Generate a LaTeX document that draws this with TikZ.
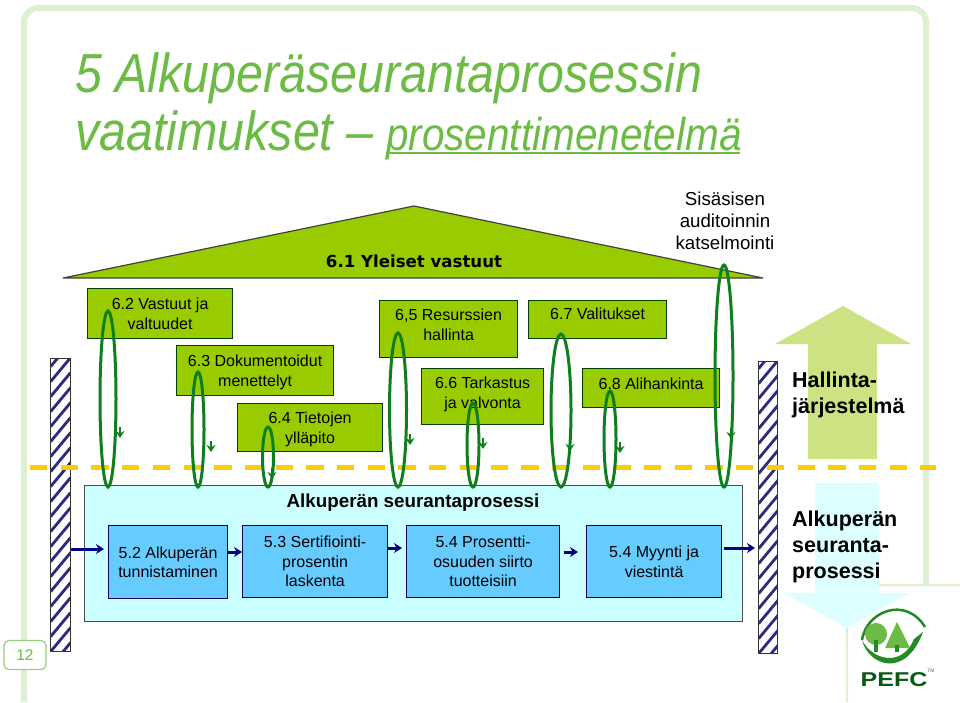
\documentclass[tikz,border=0pt]{standalone}
\usepackage{fontspec}
\setmainfont{Liberation Sans}
\newfontfamily\roofont{DejaVu Sans}
\newfontfamily\titlefont[FakeStretch=0.88]{Liberation Sans}
\usetikzlibrary{positioning, arrows.meta, shapes.geometric}
\definecolor{framegreen}{HTML}{DDF0D2}
\definecolor{titlegreen}{HTML}{6CBB45}
\definecolor{boxgreen}{HTML}{99CC00}
\definecolor{loopgreen}{HTML}{0F7F1E}
\definecolor{dashyellow}{HTML}{FFCC00}
\definecolor{upgreen}{HTML}{CDE383}
\definecolor{panelcyan}{HTML}{CCFFFF}
\definecolor{downcyan}{HTML}{DDFFFF}
\definecolor{boxblue}{HTML}{66CCFF}
\definecolor{barnavy}{HTML}{2B2B80}
\tikzset{
  x=1pt, y=-1pt,
  >=Stealth,
  sz/.style 2 args={minimum width=#1pt, minimum height=#2pt},
  topbox/.style={draw=black!75!green, line width=1.2pt, fill=boxgreen, align=center, font=\fontsize{16}{20}\selectfont, inner sep=0pt, anchor=north west},
  procbox/.style={draw=black!60!blue, line width=1.2pt, fill=boxblue, align=center, font=\fontsize{16}{19.5}\selectfont, inner sep=0pt, anchor=north west},
  loopring/.style={draw=loopgreen, line width=3pt, ellipse, inner sep=0pt},
  looptick/.style={draw=loopgreen, line width=1.8pt, -{Stealth[length=7pt,width=9pt]}},
  flow/.style={draw=blue!50!black, line width=3pt, -{Stealth[length=8pt,width=10pt]}},
  hatchbar/.style={draw=black!80, line width=1.2pt, inner sep=0pt, fill=white, anchor=north west,
    path picture={\foreach \k in {-2,...,20}{
      \draw[barnavy, line width=2.8pt] ([yshift=\k*15pt]path picture bounding box.south west) -- ++(20,-24);}}},
  bigtext/.style={font=\fontsize{21.5}{26}\selectfont\bfseries, align=left, anchor=north west, inner sep=0pt},
  titletext/.style={anchor=base west, inner sep=0pt, text=titlegreen, font=\titlefont\fontsize{55}{59}\selectfont\itshape},
}
\begin{document}
\begin{tikzpicture}
  \useasboundingbox (0,0) rectangle (960,702);
  \fill[white] (0,0) rectangle (960,702);
  % frame
  \draw[framegreen, line width=6pt, rounded corners=14pt] (24,702) -- (24,8) -- (926,8) -- (926,600);
  \fill[white] (847,702) -- (847,585) -- (960,585) -- (960,702) -- cycle;
  \draw[framegreen, line width=2pt, rounded corners=12pt] (847,702) -- (847,585) -- (960,585);
  % title
  \node[titletext] (title1) at (75,92) {5 Alkuperäseurantaprosessin};
  \node[titletext] (title2) at (75,150) {vaatimukset –};
  \node[titletext, font=\titlefont\fontsize{46}{50}\selectfont\itshape] (title3) at (386,150) {prosenttimenetelmä};
  \draw[titlegreen, line width=2.5pt] (title3.base west) ++(0,3) -- ++(354,0);
  % roof
  \draw[fill=boxgreen, draw=black!75, line width=1.2pt, line join=bevel] (63,278) -- (414,206) -- (763,278) -- cycle;
  \node[font=\roofont\fontsize{16.6}{19}\selectfont\bfseries, inner sep=0pt] (roof) at (414,261) {6.1 Yleiset vastuut};
  \node[align=center, font=\fontsize{18.7}{22}\selectfont, inner sep=0pt] (audit) at (725,221) {Sisäsisen\\auditoinnin\\katselmointi};
  % big arrows
  \draw[draw=none, fill=upgreen] (843,306) -- (911,344) -- (877,344) -- (877,459) -- (808,459) -- (808,344) -- (775,344) -- cycle;
  \draw[draw=none, fill=downcyan] (815,483) -- (879,483) -- (879,593) -- (910,593) -- (847,628) -- (783,593) -- (815,593) -- cycle;
  % upper boxes
  \node[topbox, sz={145}{50}] (b62) at (87,288) {6.2 Vastuut ja\\valtuudet};
  \node[topbox, sz={157}{50}, text height=36pt] (b63) at (176,345) {6.3 Dokumentoidut\\menettelyt};
  \node[topbox, sz={145}{48}, text height=36pt] (b64) at (237,403) {6.4 Tietojen\\ylläpito};
  \node[topbox, sz={138}{57}, text depth=9.4pt] (b65) at (379,300) {6,5 Resurssien\\hallinta};
  \node[topbox, sz={122}{56}, text depth=7.4pt] (b66) at (421,368) {6.6 Tarkastus\\ja valvonta};
  \node[topbox, sz={138}{38}, text depth=11.4pt] (b67) at (528,300) {6.7 Valitukset};
  \node[topbox, sz={137}{39}, text depth=9.4pt] (b68) at (582,368) {6.8 Alihankinta};
  % hatched bars
  \node[hatchbar, sz={20}{293}] (barL) at (50,358) {};
  \node[hatchbar, sz={19}{292}] (barR) at (758,361) {};
  % process panel
  \node[draw=black!70, line width=1.2pt, fill=panelcyan, inner sep=0pt, anchor=north west, sz={658}{136}] (panel) at (84,485) {};
  \node[font=\fontsize{18.8}{20}\selectfont\bfseries, inner sep=0pt] (paneltitle) at (413,503) {Alkuperän seurantaprosessi};
  \node[procbox, sz={119}{73}] (p52) at (108,525) {5.2 Alkuperän\\tunnistaminen};
  \node[procbox, sz={145}{72}] (p53) at (242,525) {5.3 Sertifiointi-\\prosentin\\laskenta};
  \node[procbox, sz={153}{72}] (p54) at (406,525) {5.4 Prosentti-\\osuuden siirto\\tuotteisiin};
  \node[procbox, sz={135}{72}] (p55) at (586,525) {5.4 Myynti ja\\viestintä};
  \draw[flow, shorten >=4pt] (barL.east |- 0,549) -- (p52.west |- 0,549);
  \draw[flow] (p52.east |- 0,552) -- (p53.west |- 0,552);
  \draw[flow, shorten >=4pt] (p53.east |- 0,548) -- (p54.west |- 0,548);
  \draw[flow, shorten >=8pt, shorten <=4pt] (p54.east |- 0,552) -- (p55.west |- 0,552);
  \draw[flow, shorten >=3pt, shorten <=2pt] (p55.east |- 0,548) -- (barR.west |- 0,548);
  % dashed line
  \coordinate (dashA) at (30,467);
  \coordinate (dashB) at (936,467);
  \draw[dashyellow, line width=5pt, dash pattern=on 17.3pt off 13.4pt] (dashA) -- (dashB);
  % loops
  \foreach \nm/\cx/\ty/\rw/\tx/\tb in {
      r62/108/311/16/120/427, r63/198/372/12/211/441, r64/268/427/11/272/468, r65/398/333/17/410/434,
      r66/473/403/12/483/438, r67/561/334/20/570/440, r68/610/391/12/620/442, r69/724/265/18/731/428}{
    \pgfmathsetmacro{\rh}{487-\ty}
    \pgfmathsetmacro{\my}{(487+\ty)/2}
    \node[loopring, minimum width=\rw pt, minimum height=\rh pt] (\nm) at (\cx,\my) {};
    \coordinate (\nm t) at (\tx,\tb);
    \coordinate (\nm e) at (\tx,\tb+11);
    \draw[looptick] (\nm t) -- (\nm e);
  }
  % side texts
  \node[bigtext] (hall) at (792,372) {Hallinta-\\järjestelmä};
  \node[bigtext] (alku) at (792,511) {Alkuperän\\seuranta-\\prosessi};
  % page number
  \node[draw=titlegreen!70, line width=1.2pt, rounded corners=5pt, fill=white, text=titlegreen, font=\fontsize{15.5}{18}\selectfont, inner sep=0pt, sz={42}{29}] (page) at (25,655) {12};
  % logo
  \draw[loopgreen!80!titlegreen, line width=2.5pt] (862,640) .. controls (866,612) and (905,595) .. (925,627);
  \fill[loopgreen!80!titlegreen] (862,640) .. controls (868,665) and (905,680) .. (923,632) -- (914,639) .. controls (902,668) and (872,660) .. cycle;
  \node[circle, fill=titlegreen, inner sep=0pt, minimum size=22pt] (tree) at (876,634) {};
  \fill[loopgreen!80!titlegreen] (874,640) rectangle (878,652);
  \fill[titlegreen] (897,622) -- (910,648) -- (885,648) -- cycle;
  \fill[loopgreen!80!titlegreen] (895,645) rectangle (899,652);
  \node[text=loopgreen!70!black, font=\fontsize{20}{20}\selectfont\bfseries, inner sep=0pt, xscale=1.25] (pefc) at (894,680) {PEFC};
  \node[text=black!60, font=\fontsize{5}{5}\selectfont, inner sep=0pt] (tm) at (931,671) {TM};
\end{tikzpicture}
\end{document}
